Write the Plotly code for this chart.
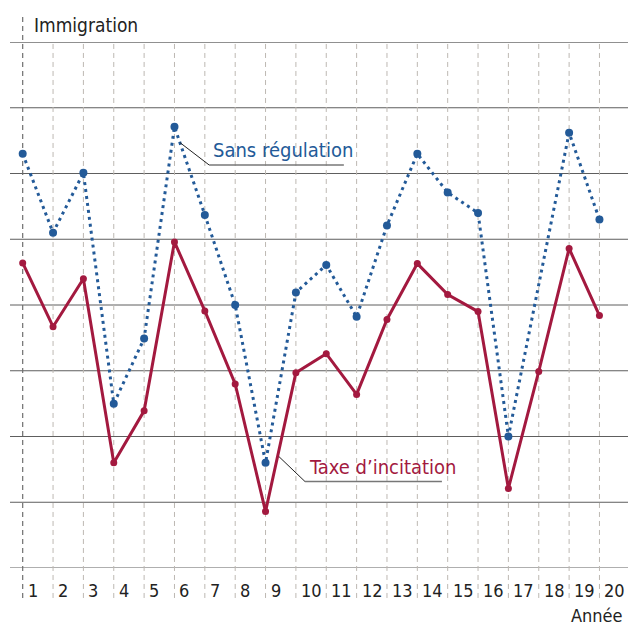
import plotly.graph_objects as go

years = list(range(1, 21))
sans_regulation = [6.30, 5.10, 6.01, 2.50, 3.49, 6.71, 5.37, 4.00, 1.60, 4.19,
                   4.61, 3.82, 5.21, 6.30, 5.71, 5.40, 2.00, None, 6.62, 5.30]
taxe_incitation = [4.64, 3.67, 4.40, 1.60, 2.39, 4.96, 3.91, 2.80, 0.86, 2.97,
                   3.26, 2.64, 3.78, 4.63, 4.16, 3.90, 1.21, 2.99, 4.86, 3.84]
y_levels = list(range(0, 9))
tick_labels = [str(y) for y in years]

BLUE = "#235a98"
RED = "#a3193f"
FONT = "DejaVu Sans Condensed, Liberation Sans Narrow, Roboto, sans-serif"

fig = go.Figure()

# grid shapes
shapes = []
for yv in y_levels:
    shapes.append(dict(type="line", xref="paper", yref="y", x0=0, x1=1, y0=yv, y1=yv,
                       line=dict(color="#222" if yv == 8 else "#5e5e5e", width=1), layer="below"))
for xv in years:
    first = xv == years[0]
    shapes.append(dict(type="line", xref="x", yref="paper", x0=xv, x1=xv,
                       y0=-0.057, y1=1.051 if first else 1,
                       line=dict(color="#6e6e6e" if first else "#bdb8b2", width=1.2 if first else 1,
                                 dash="5px,4px"), layer="below"))

# leader lines
shapes += [
    dict(type="line", xref="x", yref="y", x0=6.18, y0=6.47, x1=7.14, y1=6.13, line=dict(color="#222", width=1)),
    dict(type="line", xref="x", yref="y", x0=7.14, y0=6.13, x1=11.58, y1=6.13, line=dict(color="#777", width=1.5)),
    dict(type="line", xref="x", yref="y", x0=9.44, y0=1.695, x1=10.30, y1=1.315, line=dict(color="#222", width=1)),
    dict(type="line", xref="x", yref="y", x0=10.30, y0=1.315, x1=14.81, y1=1.315, line=dict(color="#777", width=1.5)),
]

fig.add_trace(go.Scatter(x=years, y=taxe_incitation, mode="lines+markers",
                         line=dict(color=RED, width=3), marker=dict(color=RED, size=7),
                         name="Taxe d’incitation", hoverinfo="x+y"))
fig.add_trace(go.Scatter(x=years, y=sans_regulation, mode="lines+markers", connectgaps=True,
                         line=dict(color=BLUE, width=3, dash="3px,4px"), marker=dict(color=BLUE, size=8),
                         name="Sans régulation", hoverinfo="x+y"))

annotations = []
for xv, lab in zip(years, tick_labels):
    annotations.append(dict(x=xv, y=-0.042, xref="x", yref="paper", text=lab, showarrow=False,
                            xanchor="left", yanchor="middle", xshift=3,
                            font=dict(family=FONT, size=18, color="#222")))
annotations += [
    dict(x=0.0356, y=1.032, xref="paper", yref="paper", text="Immigration", showarrow=False,
         xanchor="left", yanchor="middle", font=dict(family=FONT, size=19, color="#222")),
    dict(x=0.995, y=-0.091, xref="paper", yref="paper", text="Année", showarrow=False,
         xanchor="right", yanchor="middle", font=dict(family=FONT, size=18, color="#222")),
    dict(x=7.19, y=6.13, xref="x", yref="y", text="Sans régulation", showarrow=False,
         xanchor="left", yanchor="bottom", yshift=1, font=dict(family=FONT, size=20, color=BLUE)),
    dict(x=10.35, y=1.315, xref="x", yref="y", text="Taxe d’incitation", showarrow=False,
         xanchor="left", yanchor="bottom", yshift=1, font=dict(family=FONT, size=20, color=RED)),
]

fig.update_layout(
    width=628, height=628,
    margin=dict(l=10, r=0, t=42, b=60),
    paper_bgcolor="white", plot_bgcolor="white",
    showlegend=False,
    shapes=shapes, annotations=annotations,
    xaxis=dict(range=[0.582, 20.94], showgrid=False, zeroline=False, showticklabels=False,
               ticks="", showline=False, fixedrange=True),
    yaxis=dict(range=[0, 8], showgrid=False, zeroline=False, showticklabels=False,
               ticks="", showline=False, fixedrange=True),
)

fig.write_html("out.html", config={"displayModeBar": False},
               post_script="document.body.style.margin='0';document.body.style.overflow='hidden';")
